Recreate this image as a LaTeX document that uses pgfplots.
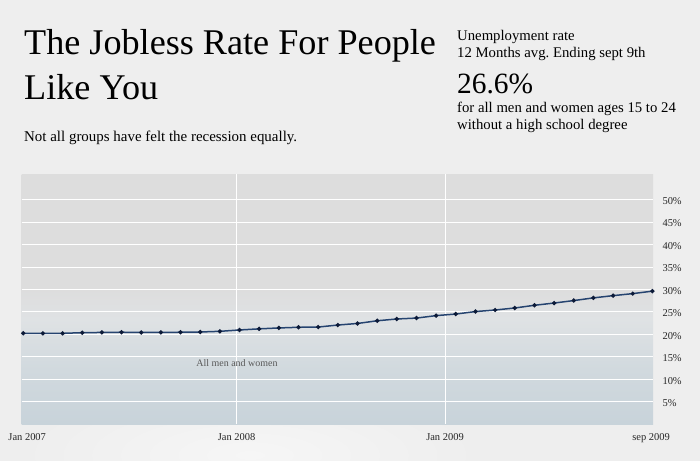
\documentclass[border=0pt]{standalone}
\usepackage{pgfplots}
\pgfplotsset{compat=1.18}
\usepackage{fontspec}
\setmainfont{Liberation Serif}
\frenchspacing
\definecolor{pagebg}{RGB}{238,238,238}
\definecolor{pageglow}{RGB}{246,246,246}
\definecolor{plottop}{RGB}{221,221,221}
\definecolor{plotmid}{RGB}{223,226,228}
\definecolor{plotlow}{RGB}{209,217,222}
\definecolor{plotbot}{RGB}{200,211,218}
\definecolor{linecol}{RGB}{38,68,112}
\definecolor{markcol}{RGB}{12,26,56}
\pgfdeclareverticalshading{plotbg}{100bp}{color(0bp)=(plotbot); color(25bp)=(plotbot); color(36bp)=(plotlow); color(46bp)=(plotmid); color(52bp)=(plottop); color(75bp)=(plottop); color(100bp)=(plottop)}
\begin{document}
\begin{tikzpicture}
\path[use as bounding box, fill=pagebg] (0,0) rectangle (700bp,-461bp);
\begin{scope}
\clip (0,0) rectangle (700bp,-461bp);
\shade[inner color=pageglow, outer color=pagebg] (250bp,-455bp) ellipse (230bp and 70bp);
\end{scope}
% titles
\node[anchor=base west, inner sep=0, font=\fontsize{36.3}{44}\selectfont] at (24bp,-54.3bp) {The Jobless Rate For People};
\node[anchor=base west, inner sep=0, font=\fontsize{36.3}{44}\selectfont] at (24bp,-99bp) {Like You};
\node[anchor=base west, inner sep=0, font=\fontsize{15}{18}\selectfont] at (24bp,-141bp) {Not all groups have felt the recession equally.};
\node[anchor=base west, inner sep=0, font=\fontsize{14.8}{18}\selectfont] at (457bp,-40bp) {Unemployment rate};
\node[anchor=base west, inner sep=0, font=\fontsize{14.8}{18}\selectfont] at (457bp,-57.3bp) {12 Months avg. Ending sept 9th};
\node[anchor=base west, inner sep=0, font=\fontsize{29.5}{34}\selectfont] at (457bp,-93.3bp) {26.6\%};
\node[anchor=base west, inner sep=0, font=\fontsize{14.8}{18}\selectfont] at (457bp,-112.7bp) {for all men and women ages 15 to 24};
\node[anchor=base west, inner sep=0, font=\fontsize{14.8}{18}\selectfont] at (457bp,-129.3bp) {without a high school degree};
\begin{axis}[
  at={(21.5bp,-424bp)}, anchor=south west, scale only axis,
  width=631.5bp, height=250bp,
  xmin=-0.09, xmax=32.03, ymin=0, ymax=55.7,
  axis background/.style={shade, shading=plotbg},
  axis line style={draw=none}, major tick length=0pt,
  ytick={5,10,...,50},
  yticklabels={5\%,10\%,15\%,20\%,25\%,30\%,35\%,40\%,45\%,50\%},
  yticklabel pos=right,
  yticklabel style={anchor=west, xshift=6bp, yshift=-1.5bp},
  ymajorgrids, xmajorgrids,
  grid style={white, line width=0.8bp},
  xtick={10.85,21.45}, xticklabels={Jan 2008,Jan 2009},
  extra x ticks={0.2,31.93}, extra x tick labels={Jan 2007,sep 2009},
  extra x tick style={grid=none},
  xticklabel style={yshift=-6bp},
  tick label style={font=\fontsize{10.5}{12}\selectfont, text=black!85},
  clip=false,
]
\addplot[linecol, line width=1.5bp, mark=*, mark size=1.3bp,
  mark options={fill=markcol, draw=markcol}] coordinates {
 (0,20.2)(1,20.2)(2,20.2)(3,20.35)(4,20.4)(5,20.45)(6,20.4)(7,20.4)
 (8,20.45)(9,20.5)(10,20.65)(11,20.95)(12,21.2)(13,21.4)(14,21.55)(15,21.6)
 (16,22.05)(17,22.4)(18,23.0)(19,23.4)(20,23.6)(21,24.15)(22,24.5)(23,25.05)
 (24,25.4)(25,25.85)(26,26.45)(27,26.95)(28,27.5)(29,28.1)(30,28.6)(31,29.05)(32,29.6)};
\node[text=black!65, font=\fontsize{10}{12}\selectfont] at (axis cs:10.87,13.5) {All men and women};
\end{axis}
\end{tikzpicture}
\end{document}
